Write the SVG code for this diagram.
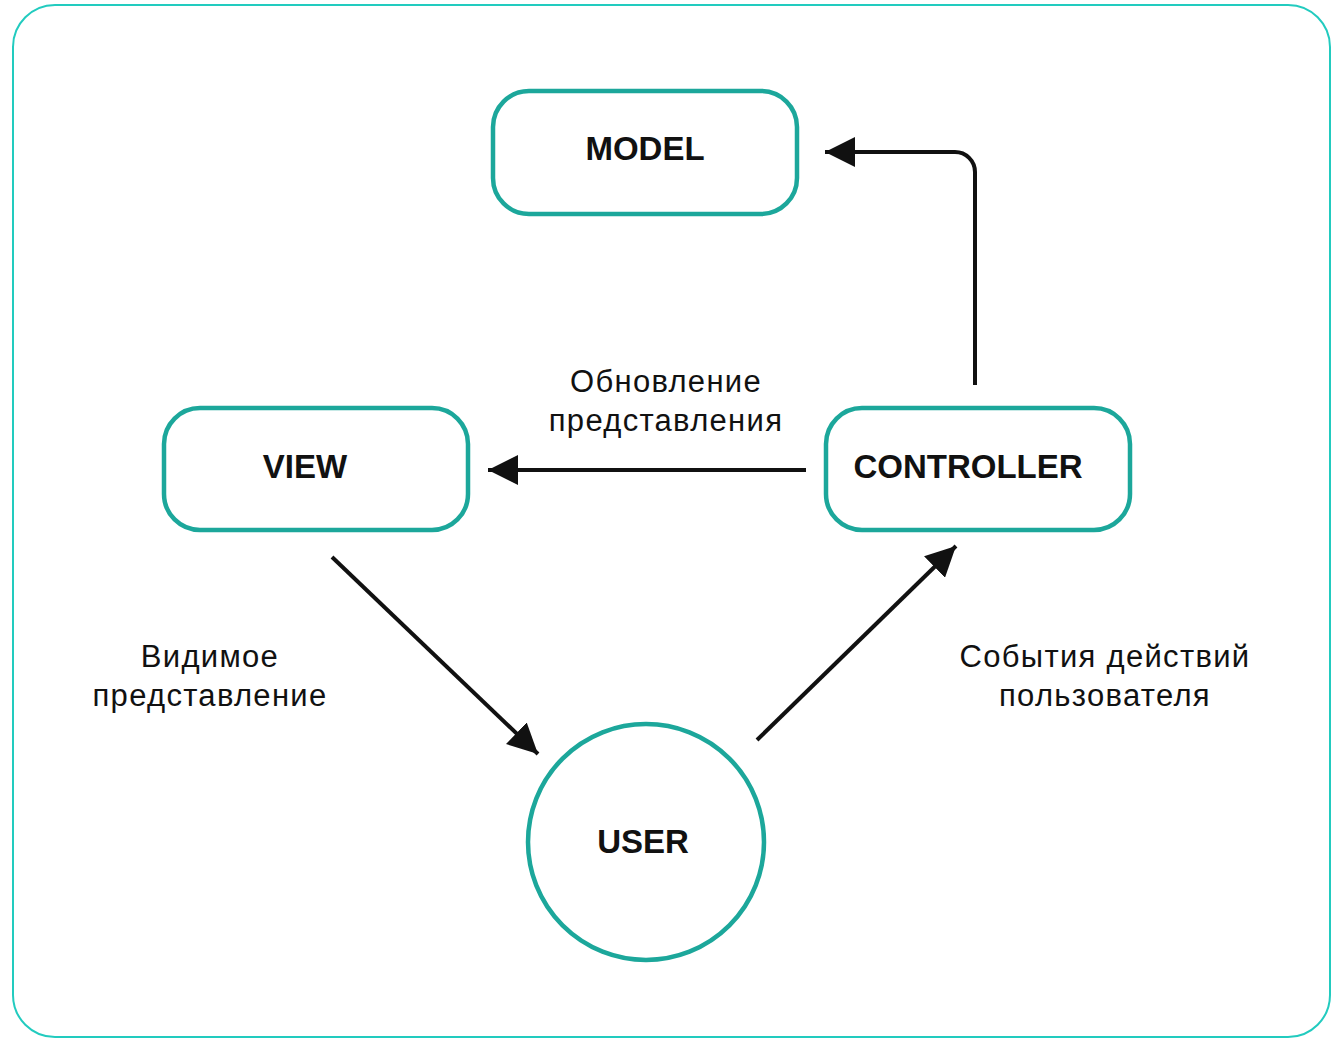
<svg xmlns="http://www.w3.org/2000/svg" width="1337" height="1038" viewBox="0 0 1337 1038">
<style>
.node{fill:#fff;stroke:#1ca79b;stroke-width:4.5}
.lbl{font-family:"Liberation Sans",Arial,sans-serif;font-weight:bold;font-size:33px;fill:#111;text-anchor:middle}
.txt{font-family:"Liberation Sans",Arial,sans-serif;font-size:31px;letter-spacing:1.3px;fill:#111;text-anchor:middle}
.conn{fill:none;stroke:#111;stroke-width:4}
</style>
<defs>
<marker id="ah" markerUnits="userSpaceOnUse" markerWidth="30" markerHeight="30" refX="28" refY="14" orient="auto" viewBox="0 0 28 28">
<path d="M0,0 L28,14 L0,28 z" fill="#111"/>
</marker>
</defs>
<rect x="0" y="0" width="1337" height="1038" fill="#fff"/>
<rect id="frame" x="13" y="5" width="1317" height="1032" rx="42" fill="#fff" stroke="#22cbbf" stroke-width="2"/>
<g id="connectors">
<path class="conn" d="M975,385 L975,172 A20,20 0 0 0 955,152 L825,152" marker-end="url(#ah)"/>
<path class="conn" d="M806,470 L488,470" marker-end="url(#ah)"/>
<path class="conn" d="M332,557 L538,754" marker-end="url(#ah)"/>
<path class="conn" d="M757,740 L956,546" marker-end="url(#ah)"/>
</g>
<g id="model">
<rect class="node" x="493" y="91" width="304" height="123" rx="36"/>
<text class="lbl" x="645" y="160">MODEL</text>
</g>
<g id="view">
<rect class="node" x="164" y="408" width="304" height="122" rx="36"/>
<text class="lbl" x="305" y="478">VIEW</text>
</g>
<g id="controller">
<rect class="node" x="826" y="408" width="304" height="122" rx="36"/>
<text class="lbl" x="968" y="478">CONTROLLER</text>
</g>
<g id="user">
<circle class="node" cx="646" cy="842" r="118"/>
<text class="lbl" x="643" y="853">USER</text>
</g>
<g id="labels">
<text class="txt" x="666" y="392">Обновление</text>
<text class="txt" x="666" y="431">представления</text>
<text class="txt" x="210" y="667">Видимое</text>
<text class="txt" x="210" y="706">представление</text>
<text class="txt" x="1105" y="667">События действий</text>
<text class="txt" x="1105" y="706">пользователя</text>
</g>
</svg>
